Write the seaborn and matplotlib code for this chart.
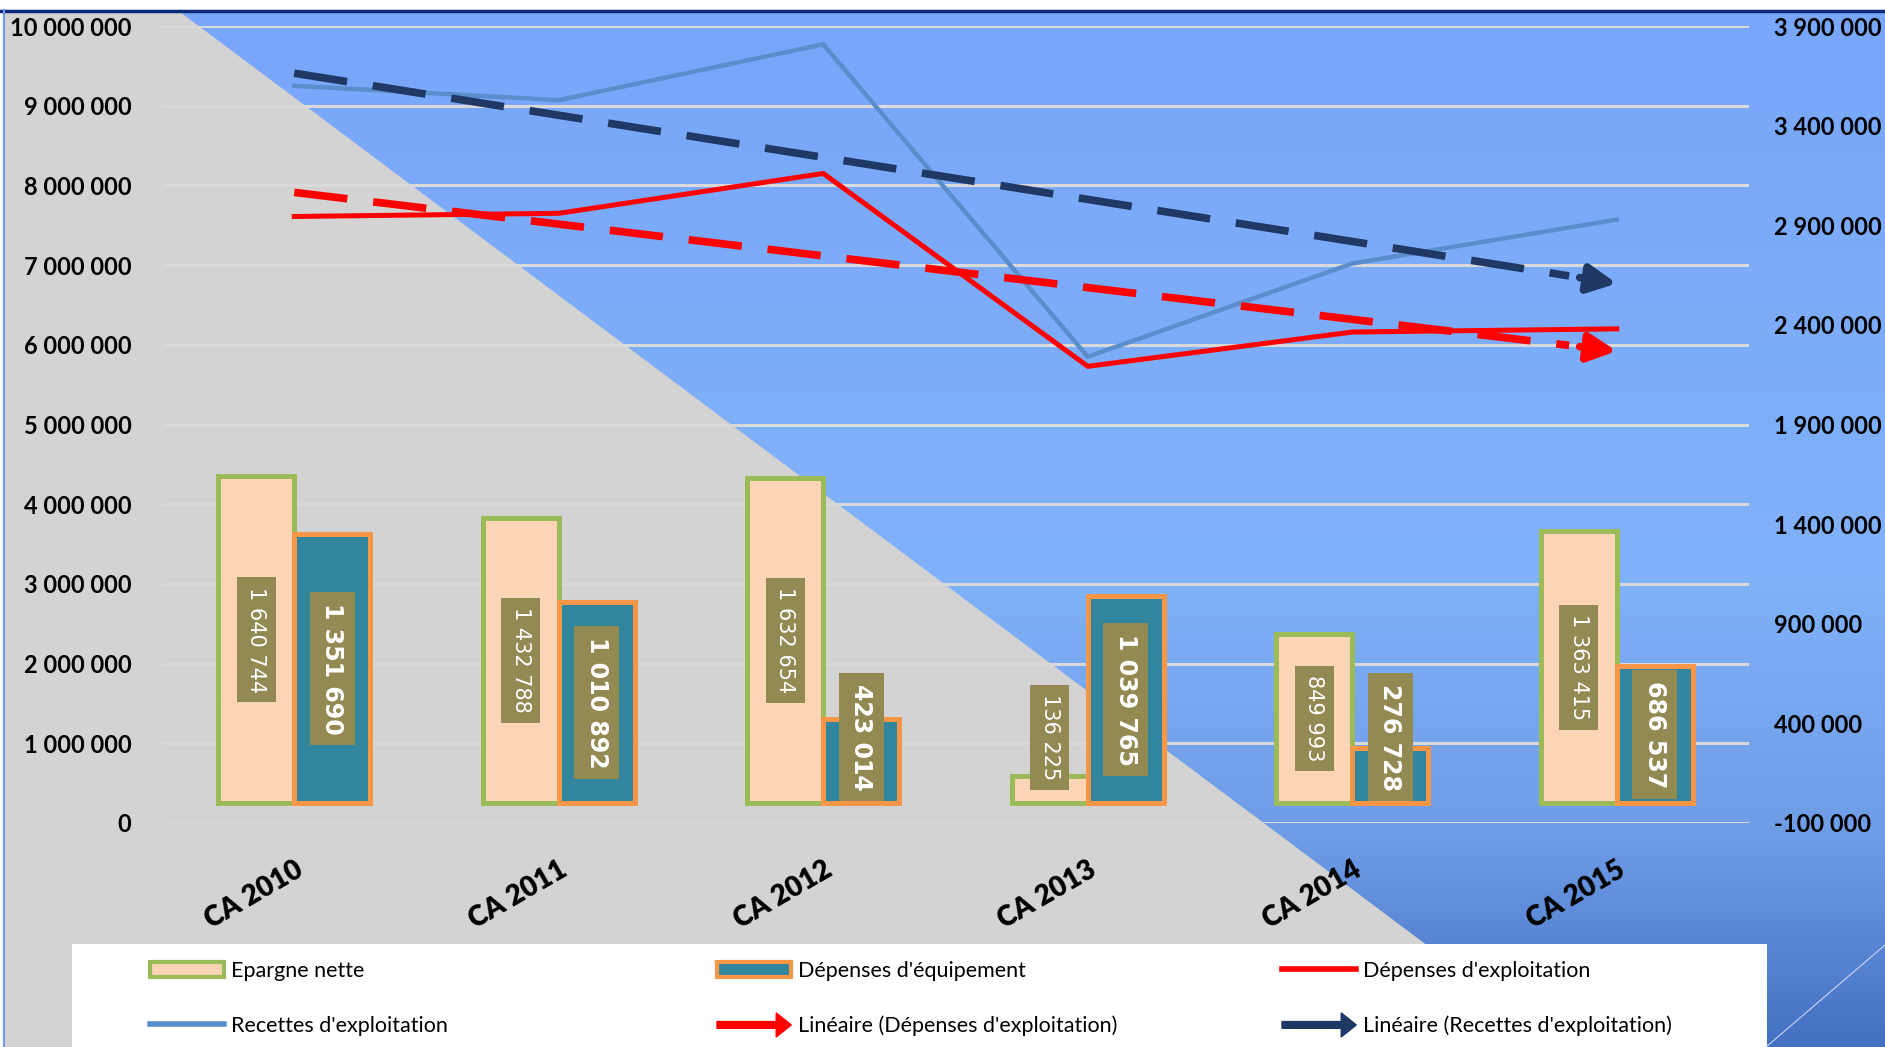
import numpy as np
import pandas as pd
import matplotlib.pyplot as plt
import seaborn as sns
from matplotlib.patches import Polygon, Rectangle, FancyArrow, Patch
from matplotlib.lines import Line2D
from matplotlib.legend_handler import HandlerPatch
from matplotlib.ticker import FixedLocator, FuncFormatter
from matplotlib.colors import LinearSegmentedColormap

categories = ["CA 2010", "CA 2011", "CA 2012", "CA 2013", "CA 2014", "CA 2015"]
epargne_nette = [1640744, 1432788, 1632654, 136225, 849993, 1363415]
depenses_equipement = [1351690, 1010892, 423014, 1039765, 276728, 686537]
depenses_exploitation = [7610000, 7650000, 8150000, 5730000, 6160000, 6200000]
recettes_exploitation = [9250000, 9070000, 9770000, 5850000, 7020000, 7570000]

left_ticks = np.arange(0, 10000001, 1000000)
right_ticks = np.arange(-100000, 3900001, 500000)

peach, green = "#FBD5B5", "#9BBB59"
teal, orange = "#31859C", "#F79646"
red, steel, navy = "#FF0000", "#5A8DCB", "#1F3864"
label_box = "#938953"

W, H = 1885, 1047
fig = plt.figure(figsize=(W / 100, H / 100), dpi=100)


def fmt(v, pos=None):
    return f"{int(round(v)):,}".replace(",", " ")


# slide background: blue gradient + grey triangle
bg = fig.add_axes([0, 0, 1, 1], zorder=-10)
bg.set_xlim(0, W)
bg.set_ylim(H, 0)
bg.axis("off")
cmap = LinearSegmentedColormap.from_list(
    "slide", [(0, "#78A6FA"), (0.55, "#80B2F8"), (0.8, "#6E9CE6"), (1, "#4470C2")])
grad = np.linspace(0, 1, 256).reshape(-1, 1)
bg.imshow(grad, cmap=cmap, extent=(0, W, H, 12), aspect="auto")
bg.add_patch(Polygon([(0, 12), (180, 12), (1563, H), (0, H)], color="#D3D3D3", lw=0))
bg.add_patch(Rectangle((0, 0), W, 9, color="white", lw=0))
bg.plot([0, W], [10.5, 10.5], color="#0B2A78", lw=2.5)
bg.add_patch(Rectangle((0, 0), 3, H, color="white", lw=0))
bg.plot([4, 4], [10, H], color="#6B9BE8", lw=1.5)
bg.plot([W, 1766], [945, H], color="#C8D8F0", lw=0.8)
bg.add_patch(Rectangle((72, 944), 1695, 110, color="white", lw=0))

# bars on the right-hand scale, lines on a twin with the left-hand scale
ax = fig.add_axes([162 / W, 1 - 823 / H, (1749 - 162) / W, (823 - 26) / H])
ax.patch.set_visible(False)
ax2 = ax.twinx()

bars_df = pd.DataFrame({
    "categorie": categories * 2,
    "serie": ["Epargne nette"] * 6 + ["Dépenses d'équipement"] * 6,
    "valeur": epargne_nette + depenses_equipement,
})
sns.barplot(data=bars_df, x="categorie", y="valeur", hue="serie", ax=ax,
            palette=[peach, teal], saturation=1, width=0.573, gap=0,
            errorbar=None, legend=False, linewidth=3.6)
for cont, edge in zip(ax.containers, [green, orange]):
    for bar in cont:
        bar.set_edgecolor(edge)

ax.set_xlim(-0.5, 5.5)
ax.set_ylim(-100000, 3900000)
ax.set_yticks(right_ticks)
ax.yaxis.set_major_formatter(FuncFormatter(fmt))
ax.yaxis.set_minor_locator(FixedLocator(np.arange(-100000, 3900001, 400000)))
ax.yaxis.remove_overlapping_locs = False
ax.grid(False)
ax.grid(which="minor", axis="y", color="#D9D9D9", lw=2.2)
ax.set_axisbelow(True)
ax.yaxis.tick_right()
ax.tick_params(axis="y", which="both", length=0, pad=18)
ax.tick_params(axis="x", length=0, pad=24)
ax.set_xticks(range(len(categories)))
ax.set_xticklabels(categories, rotation=30, ha="right", rotation_mode="anchor",
                   family="Lato", weight="heavy", fontsize=20)
ax.set_xlabel("")
ax.set_ylabel("")
for s in ax.spines.values():
    s.set_visible(False)

# data labels
half = 0.573 / 4
for vals, dx, bold in [(epargne_nette, -half, False), (depenses_equipement, half, True)]:
    for i, v in enumerate(vals):
        yc = max(v / 2, 330000)
        ax.text(i + dx, yc, fmt(v), rotation=270, ha="center", va="center",
                color="white", fontsize=17 if bold else 15,
                weight="bold" if bold else "normal", family="DejaVu Sans",
                bbox=dict(boxstyle="square,pad=0.45", fc=label_box, ec="none"))

x_pos = np.arange(len(categories))
sns.lineplot(x=x_pos, y=recettes_exploitation, ax=ax2, color=steel, lw=3.2)
sns.lineplot(x=x_pos, y=depenses_exploitation, ax=ax2, color=red, lw=3.6)

for vals, col in [(recettes_exploitation, navy), (depenses_exploitation, red)]:
    coef = np.polyfit(x_pos, vals, 1)
    xs = np.array([0, 4.82])
    ax2.plot(xs, np.polyval(coef, xs), color=col, lw=5.5,
             ls=(0, (7, 3.4)), dash_capstyle="butt")
    ax2.annotate("", xy=(5, np.polyval(coef, 5)), xytext=(4.86, np.polyval(coef, 4.86)),
                 arrowprops=dict(arrowstyle="-|>", mutation_scale=42, color=col,
                                 lw=5.5, shrinkA=0, shrinkB=0))
ax2.set_xlim(-0.5, 5.5)
ax2.set_ylim(0, 10000000)
ax2.set_yticks(left_ticks)
ax2.yaxis.set_major_formatter(FuncFormatter(fmt))
ax2.yaxis.tick_left()
ax2.tick_params(axis="y", length=0, pad=22)
ax2.set_ylabel("")
for s in ax2.spines.values():
    s.set_visible(False)

for a in (ax, ax2):
    for lab in a.get_yticklabels():
        lab.set_family("Lato")
        lab.set_weight("bold")
        lab.set_fontsize(17)


# legend, three columns
def make_arrow(legend, orig_handle, xdescent, ydescent, width, height, fontsize):
    return FancyArrow(0, height / 2, width, 0, width=height * 0.45,
                      length_includes_head=True, head_width=height * 1.6,
                      head_length=height * 1.0)


arrow_red = Patch(color=red)
arrow_navy = Patch(color=navy)
columns = [
    (150, [Patch(facecolor=peach, edgecolor=green, lw=3),
           Line2D([], [], color=steel, lw=4)],
     ["Epargne nette", "Recettes d'exploitation"]),
    (717, [Patch(facecolor=teal, edgecolor=orange, lw=3), arrow_red],
     ["Dépenses d'équipement", "Linéaire (Dépenses d'exploitation)"]),
    (1282, [Line2D([], [], color=red, lw=4), arrow_navy],
     ["Dépenses d'exploitation", "Linéaire (Recettes d'exploitation)"]),
]
for x0, hs, labs in columns:
    fig.legend(hs, labs, loc="upper left", bbox_to_anchor=(x0 / W, 1 - 961 / H),
               frameon=False, borderpad=0, borderaxespad=0, handlelength=3.45,
               handletextpad=0.3, labelspacing=1.62,
               prop={"family": "Lato", "size": 15.5},
               handler_map={arrow_red: HandlerPatch(patch_func=make_arrow),
                            arrow_navy: HandlerPatch(patch_func=make_arrow)})

fig.savefig("out.png", dpi=100)
